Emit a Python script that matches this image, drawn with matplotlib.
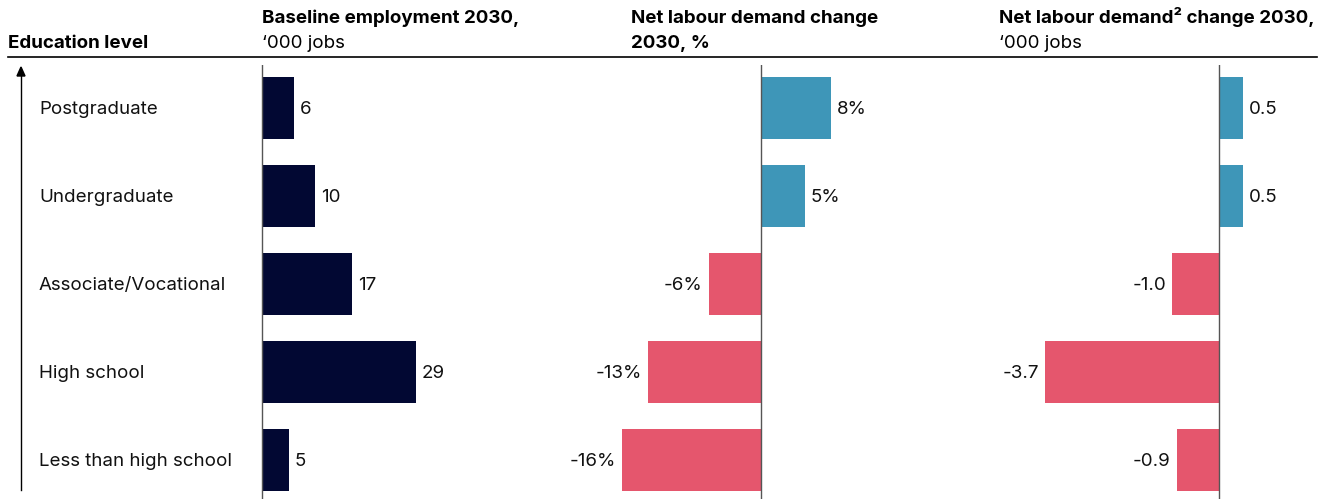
import matplotlib.pyplot as plt
from matplotlib.transforms import blended_transform_factory

plt.rcParams['font.family'] = ['Inter', 'DejaVu Sans']

levels = ['Postgraduate', 'Undergraduate', 'Associate/Vocational', 'High school', 'Less than high school']
baseline = [6, 10, 17, 29, 5]
change_pct = [8, 5, -6, -13, -16]
change_jobs = [0.5, 0.5, -1.0, -3.7, -0.9]

baseline_labels = ['6', '10', '17', '29', '5']
pct_labels = ['8%', '5%', '-6%', '-13%', '-16%']
jobs_labels = ['0.5', '0.5', '-1.0', '-3.7', '-0.9']

navy = '#020833'
blue = '#3e96b8'
red = '#e5566d'
FS = 13.5

W, H = 1330, 499
fig = plt.figure(figsize=(W / 100, H / 100), dpi=100)


def px_axes(left, right, top, bottom):
    return fig.add_axes([left / W, 1 - bottom / H, (right - left) / W, (bottom - top) / H])


def panel(left, right, zero_px, scale, values, labels, colors):
    ax = px_axes(left, right, 65, H)
    ax.set_xlim((left - zero_px) / scale, (right - zero_px) / scale)
    ax.set_ylim((H - 108) / 88, (65 - 108) / 88)
    ax.barh(range(len(values)), values, height=0.7, color=colors)
    ax.axvline(0, color='#555555', lw=1)
    pad = 6 / scale
    for i, (v, lab) in enumerate(zip(values, labels)):
        if v >= 0:
            ax.text(v + pad, i, lab, va='center_baseline', ha='left', fontsize=FS, color='#111111')
        else:
            ax.text(v - pad, i, lab, va='center_baseline', ha='right', fontsize=FS, color='#111111')
    ax.axis('off')
    return ax


ax1 = panel(230, 560, 262, 5.3, baseline, baseline_labels, [navy] * 5)
panel(560, 990, 761, 8.7, change_pct, pct_labels,
      [blue if v > 0 else red for v in change_pct])
panel(990, 1325, 1219, 47, change_jobs, jobs_labels,
      [blue if v > 0 else red for v in change_jobs])

# category names on the left
tr = blended_transform_factory(fig.transFigure, ax1.transData)
for i, name in enumerate(levels):
    ax1.text(39 / W, i, name, transform=tr, va='center_baseline', ha='left', fontsize=FS,
             color='#111111', clip_on=False)

# headers
def fy(p):
    return 1 - p / H

fig.text(8 / W, fy(48), 'Education level', fontsize=FS, fontweight='bold', va='baseline')
fig.text(262 / W, fy(23), 'Baseline employment 2030,', fontsize=FS, fontweight='bold', va='baseline')
fig.text(262 / W, fy(48), '\u2018000 jobs', fontsize=FS, va='baseline')
fig.text(631 / W, fy(23), 'Net labour demand change', fontsize=FS, fontweight='bold', va='baseline')
fig.text(631 / W, fy(48), '2030, %', fontsize=FS, fontweight='bold', va='baseline')
fig.text(999 / W, fy(23), 'Net labour demand\u00b2 change 2030,', fontsize=FS, fontweight='bold', va='baseline')
fig.text(999 / W, fy(48), '\u2018000 jobs', fontsize=FS, va='baseline')

fig.add_artist(plt.Line2D([8 / W, 1317 / W], [fy(57), fy(57)], color='black', lw=1.2))

# upward arrow next to the category names
fig.add_artist(plt.Line2D([21 / W, 21 / W], [fy(490), fy(74)], color='black', lw=1))
fig.patches.append(plt.Polygon([[17 / W, fy(76)], [25 / W, fy(76)], [21 / W, fy(67)]],
                               closed=True, color='black', transform=fig.transFigure))

fig.savefig('out.png', dpi=100)
